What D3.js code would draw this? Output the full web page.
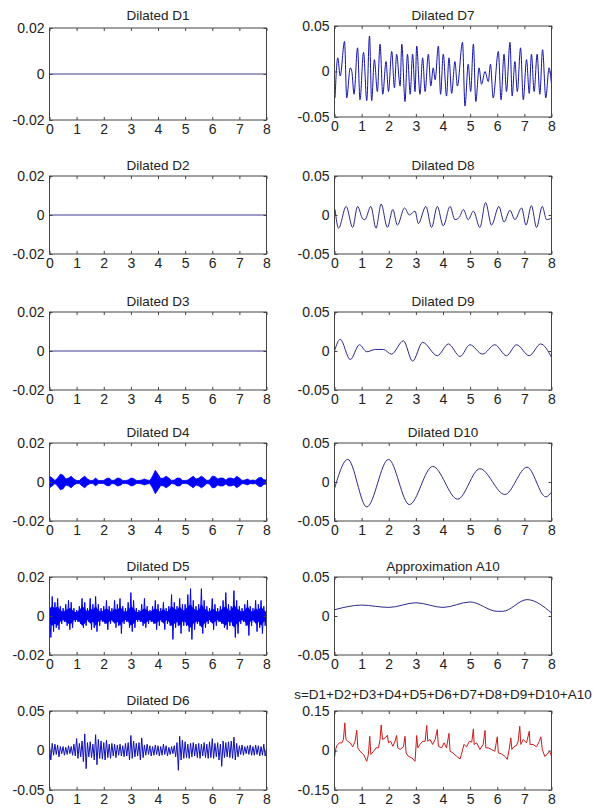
<!DOCTYPE html>
<html>
<head>
<meta charset="utf-8">
<script src="https://cdn.jsdelivr.net/npm/d3@7"></script>
<style>
body { margin: 0; background: #fff; }
svg text { font-family: "Liberation Sans", Arial, sans-serif; fill: #222; }
</style>
</head>
<body>
<svg id="chart" width="606" height="810"></svg>
<script>
// ---- data ----
const xTicks = [0, 1, 2, 3, 4, 5, 6, 7, 8]

const titles = ['Dilated D1', 'Dilated D2', 'Dilated D3', 'Dilated D4', 'Dilated D5', 'Dilated D6',
  'Dilated D7', 'Dilated D8', 'Dilated D9', 'Dilated D10', 'Approximation A10',
  's=D1+D2+D3+D4+D5+D6+D7+D8+D9+D10+A10']

const yLimits = [0.02, 0.02, 0.02, 0.02, 0.02, 0.05, 0.05, 0.05, 0.05, 0.05, 0.05, 0.15]
const yLabels = [
  ['-0.02', '0', '0.02'], ['-0.02', '0', '0.02'], ['-0.02', '0', '0.02'],
  ['-0.02', '0', '0.02'], ['-0.02', '0', '0.02'], ['-0.05', '0', '0.05'],
  ['-0.05', '0', '0.05'], ['-0.05', '0', '0.05'], ['-0.05', '0', '0.05'],
  ['-0.05', '0', '0.05'], ['-0.05', '0', '0.05'], ['-0.15', '0', '0.15']]

// D1..D3 are flat
const flatT = [0, 8]
const flatV = [0, 0]

// D4 burst amplitude, every 0.1
const d4Amp = [0.003, 0.002, 0.0008, 0.002, 0.004, 0.0035, 0.0015, 0.002, 0.003, 0.0015,
  0.0008, 0.0008, 0.002, 0.003, 0.0015, 0.0008, 0.0008, 0.002, 0.0008, 0.0008,
  0.0008, 0.0018, 0.002, 0.0008, 0.001, 0.002, 0.0018, 0.0008, 0.0008, 0.001,
  0.002, 0.0018, 0.0008, 0.0008, 0.001, 0.0015, 0.001, 0.0008, 0.003, 0.006,
  0.004, 0.0018, 0.002, 0.003, 0.002, 0.0008, 0.001, 0.002, 0.002, 0.0008,
  0.0008, 0.001, 0.002, 0.003, 0.0015, 0.002, 0.003, 0.002, 0.0008, 0.001,
  0.003, 0.0028, 0.0015, 0.002, 0.002, 0.001, 0.002, 0.002, 0.0015, 0.003,
  0.002, 0.0008, 0.001, 0.0015, 0.0008, 0.001, 0.0008, 0.002, 0.0025, 0.0012, 0.001]

// D5 upper / lower extremes and the solid core, every 0.1
const d5Up = [0.004, 0.010, 0.007, 0.009, 0.005, 0.004, 0.006, 0.008, 0.007, 0.004,
  0.003, 0.005, 0.009, 0.007, 0.004, 0.009, 0.006, 0.010, 0.006, 0.004,
  0.005, 0.008, 0.005, 0.004, 0.008, 0.006, 0.009, 0.005, 0.004, 0.007,
  0.012, 0.008, 0.004, 0.003, 0.006, 0.009, 0.005, 0.003, 0.005, 0.008,
  0.006, 0.004, 0.007, 0.004, 0.005, 0.011, 0.007, 0.005, 0.009, 0.006,
  0.006, 0.011, 0.014, 0.008, 0.005, 0.006, 0.014, 0.008, 0.005, 0.004,
  0.009, 0.006, 0.004, 0.005, 0.008, 0.012, 0.006, 0.005, 0.013, 0.008,
  0.005, 0.004, 0.006, 0.008, 0.005, 0.004, 0.008, 0.006, 0.008, 0.005, 0.003]
const d5Lo = [-0.011, -0.008, -0.006, -0.007, -0.004, -0.003, -0.005, -0.007, -0.006, -0.003,
  -0.003, -0.004, -0.006, -0.005, -0.003, -0.007, -0.006, -0.008, -0.005, -0.003,
  -0.004, -0.007, -0.004, -0.003, -0.006, -0.005, -0.009, -0.004, -0.003, -0.006,
  -0.008, -0.006, -0.003, -0.003, -0.005, -0.006, -0.004, -0.003, -0.004, -0.007,
  -0.005, -0.003, -0.007, -0.004, -0.005, -0.012, -0.006, -0.005, -0.009, -0.005,
  -0.005, -0.008, -0.012, -0.007, -0.004, -0.005, -0.009, -0.006, -0.004, -0.003,
  -0.007, -0.005, -0.003, -0.004, -0.006, -0.007, -0.005, -0.005, -0.011, -0.009,
  -0.004, -0.003, -0.005, -0.010, -0.005, -0.003, -0.008, -0.006, -0.009, -0.005, -0.003]
const d5Core = [0.004, 0.005, 0.004, 0.005, 0.003, 0.002, 0.003, 0.004, 0.004, 0.002,
  0.002, 0.003, 0.005, 0.004, 0.002, 0.004, 0.003, 0.005, 0.003, 0.002,
  0.003, 0.004, 0.003, 0.002, 0.004, 0.003, 0.005, 0.003, 0.002, 0.003,
  0.005, 0.004, 0.002, 0.002, 0.003, 0.004, 0.003, 0.002, 0.003, 0.004,
  0.003, 0.002, 0.004, 0.002, 0.003, 0.005, 0.004, 0.003, 0.005, 0.003,
  0.003, 0.005, 0.006, 0.004, 0.003, 0.003, 0.006, 0.004, 0.003, 0.002,
  0.004, 0.003, 0.002, 0.003, 0.004, 0.005, 0.003, 0.003, 0.006, 0.004,
  0.003, 0.002, 0.003, 0.005, 0.003, 0.002, 0.004, 0.003, 0.005, 0.003, 0.002]

// D6 peaks and troughs, every 0.05
const d6 = [0.006, -0.012, 0.009, -0.006, 0.008, -0.005, 0.007, -0.008, 0.005, -0.004,
  0.005, -0.006, 0.004, -0.005, 0.006, -0.004, 0.005, -0.006, 0.008, -0.007,
  0.015, -0.010, 0.009, -0.008, 0.012, -0.014, 0.021, -0.023, 0.010, -0.008,
  0.011, -0.009, 0.008, -0.012, 0.020, -0.018, 0.014, -0.010, 0.012, -0.011,
  0.010, -0.012, 0.013, -0.009, 0.008, -0.010, 0.009, -0.007, 0.008, -0.009,
  0.007, -0.006, 0.008, -0.007, 0.006, -0.008, 0.009, -0.007, 0.010, -0.012,
  0.019, -0.010, 0.012, -0.008, 0.009, -0.007, 0.010, -0.012, 0.016, -0.009,
  0.007, -0.006, 0.008, -0.005, 0.006, -0.007, 0.005, -0.006, 0.007, -0.005,
  0.006, -0.007, 0.005, -0.006, 0.008, -0.005, 0.006, -0.007, 0.004, -0.005,
  0.005, -0.004, 0.006, -0.008, 0.010, -0.025, 0.018, -0.012, 0.013, -0.010,
  0.011, -0.009, 0.008, -0.010, 0.009, -0.008, 0.010, -0.007, 0.008, -0.009,
  0.009, -0.010, 0.008, -0.007, 0.010, -0.009, 0.008, -0.010, 0.011, -0.009,
  0.015, -0.010, 0.009, -0.008, 0.010, -0.012, 0.008, -0.020, 0.012, -0.009,
  0.010, -0.008, 0.011, -0.009, 0.012, -0.010, 0.017, -0.012, 0.009, -0.008,
  0.006, -0.005, 0.007, -0.006, 0.005, -0.004, 0.006, -0.005, 0.007, -0.006,
  0.005, -0.006, 0.007, -0.005, 0.006, -0.007, 0.005, -0.006, 0.008, -0.007, 0.002]

const d7T = [0.02, 0.12, 0.21, 0.37, 0.45, 0.58, 0.64, 0.72, 0.85, 0.94, 1.07, 1.19, 1.29, 1.37, 1.47, 1.58,
  1.68, 1.78, 1.90, 1.99, 2.11, 2.21, 2.29, 2.42, 2.48, 2.60, 2.69, 2.79, 2.88, 2.97, 3.03, 3.15,
  3.25, 3.34, 3.46, 3.55, 3.64, 3.71, 3.83, 3.91, 4.01, 4.13, 4.22, 4.32, 4.44, 4.53, 4.72, 4.81,
  4.93, 5.02, 5.12, 5.21, 5.33, 5.42, 5.55, 5.67, 5.75, 5.85, 6.04, 6.14, 6.25, 6.34, 6.47, 6.55,
  6.65, 6.74, 6.86, 6.96, 7.08, 7.18, 7.26, 7.36, 7.47, 7.57, 7.67, 7.79, 7.91, 8.00]
const d7V = [-0.029, 0.015, -0.005, 0.033, -0.029, 0.004, 0.000, -0.025, 0.026, -0.031, 0.021, -0.032, 0.039, -0.032, 0.013, -0.022,
  0.030, -0.025, 0.011, -0.022, 0.022, -0.018, 0.019, -0.016, 0.030, -0.033, 0.019, -0.025, 0.019, -0.022, 0.028, -0.025,
  0.015, -0.022, 0.019, -0.016, 0.004, -0.009, 0.028, -0.025, 0.019, -0.027, 0.015, -0.024, 0.011, -0.016, 0.032, -0.038,
  0.008, -0.022, 0.030, -0.033, 0.004, -0.014, 0.000, -0.011, 0.008, -0.029, 0.022, -0.031, 0.019, -0.022, 0.032, -0.027,
  0.011, -0.022, 0.026, -0.031, 0.013, -0.024, 0.019, -0.022, 0.019, -0.025, 0.024, -0.029, 0.004, -0.014]

const d8T = [0.02, 0.15, 0.43, 0.67, 0.85, 1.04, 1.12, 1.34, 1.53, 1.72, 1.95, 2.15, 2.32, 2.58, 2.76, 2.97, 3.09,
  3.37, 3.58, 3.79, 4.01, 4.26, 4.44, 4.60, 4.75, 4.93, 5.12, 5.36, 5.57, 5.79, 6.06, 6.25, 6.47, 6.65,
  6.90, 7.06, 7.26, 7.45, 7.66, 7.82, 8.00]
const d8V = [0.007, -0.017, 0.011, -0.016, 0.011, -0.005, -0.006, 0.011, -0.017, 0.014, -0.016, 0.007, -0.013, 0.009, 0.000, 0.005, -0.011,
  0.011, -0.016, 0.011, -0.014, 0.011, -0.006, -0.003, 0.007, -0.006, 0.005, -0.016, 0.016, -0.013, 0.011, -0.009, 0.006, -0.006,
  0.009, -0.013, 0.012, -0.016, 0.011, -0.006, -0.004]

const d9T = [0, 0.21, 0.58, 0.92, 1.19, 1.50, 1.80, 2.10, 2.54, 2.88, 3.25, 3.79, 4.20, 4.63, 4.99, 5.46, 5.91, 6.34, 6.71, 7.18, 7.60, 8.00]
const d9V = [0, 0.015, -0.011, 0.008, -0.001, 0.002, 0.002, -0.004, 0.013, -0.013, 0.011, -0.006, 0.009, -0.007, 0.008, -0.004, 0.008, -0.006, 0.008, -0.006, 0.009, -0.008]

const d10T = [0, 0.49, 1.19, 1.99, 2.76, 3.62, 4.54, 5.36, 6.28, 7.10, 7.79, 8.00]
const d10V = [-0.0085, 0.029, -0.032, 0.029, -0.029, 0.020, -0.022, 0.017, -0.016, 0.019, -0.019, -0.013]

const a10T = [0, 1, 2, 3, 4, 5, 6, 6.2, 7.1, 8]
const a10V = [0.008, 0.014, 0.011, 0.017, 0.011, 0.018, 0.006, 0.006, 0.021, 0.004]

const sumT = [0.00, 0.04, 0.09, 0.18, 0.27, 0.33, 0.38, 0.42, 0.49, 0.58, 0.67, 0.76, 0.82, 0.86, 0.94, 1.07, 1.19, 1.25, 1.30, 1.34,
  1.44, 1.53, 1.62, 1.68, 1.72, 1.77, 1.87, 1.95, 1.99, 2.07, 2.15, 2.23, 2.29, 2.33, 2.42, 2.54, 2.60, 2.64, 2.72, 2.85,
  2.97, 3.03, 3.07, 3.15, 3.25, 3.34, 3.40, 3.44, 3.52, 3.62, 3.71, 3.79, 3.83, 3.95, 4.04, 4.13, 4.22, 4.26, 4.36, 4.50,
  4.63, 4.71, 4.77, 4.87, 4.97, 5.06, 5.12, 5.15, 5.24, 5.36, 5.48, 5.55, 5.58, 5.67, 5.79, 5.91, 6.00, 6.04, 6.16, 6.28,
  6.37, 6.44, 6.50, 6.54, 6.61, 6.71, 6.77, 6.83, 6.87, 6.96, 7.08, 7.18, 7.21, 7.32, 7.45, 7.55, 7.61, 7.66, 7.75, 7.84,
  7.91, 7.96, 8.00]
const sumV = [-0.028, 0.004, 0.019, 0.029, 0.029, 0.042, 0.105, 0.042, 0.035, 0.029, 0.014, 0.035, 0.077, 0.010, -0.003, -0.015, -0.041, -0.015, 0.054, -0.015,
  -0.003, 0.010, 0.010, 0.042, 0.097, 0.042, 0.048, 0.058, 0.029, 0.035, 0.016, 0.035, 0.057, 0.010, 0.004, 0.014, 0.054, -0.009, -0.022, -0.028,
  -0.041, 0.057, 0.010, 0.023, 0.035, 0.035, 0.095, 0.035, 0.042, 0.023, 0.042, 0.080, 0.016, 0.010, 0.029, 0.010, 0.065, -0.003, -0.009, -0.022,
  -0.032, -0.003, 0.023, 0.014, 0.035, 0.032, 0.082, 0.023, 0.029, 0.004, 0.023, 0.076, 0.010, 0.010, 0.004, -0.003, 0.052, -0.009, -0.013, -0.022,
  -0.034, 0.004, 0.048, 0.004, 0.014, 0.019, 0.035, 0.092, 0.023, 0.042, 0.029, 0.073, 0.023, 0.023, 0.014, 0.035, 0.052, 0.004, -0.022, -0.015,
  -0.003, -0.009, -0.022]

// ---- layout ----
const colX = [[49.5, 266.5], [334.5, 551.5]]
const rowY = [[28, 120], [176, 254], [312, 390], [443, 521], [577, 655], [711, 790]]
const rowYRight = [[26, 117], [176, 254], [312, 390], [443, 521], [577, 655], [711, 790]]
const titleGap = [8, 6, 6, 6, 6, 6, 6, 6, 6, 6, 6, 12]

const svg = d3.select('#chart')

const toPts = (ts, vs) => ts.map((t, i) => ({ t: t, v: vs[i] }))

const series = [
  { kind: 'line', pts: toPts(flatT, flatV), color: '#3a3a90', curve: d3.curveLinear },
  { kind: 'line', pts: toPts(flatT, flatV), color: '#3a3a90', curve: d3.curveLinear },
  { kind: 'line', pts: toPts(flatT, flatV), color: '#3a3a90', curve: d3.curveLinear },
  { kind: 'band', pts: d4Amp.map((a, i) => ({ t: i * 0.1, hi: a, lo: -a })), color: '#0000ff' },
  { kind: 'zig', up: d5Up, lo: d5Lo, core: d5Core, color: '#0000f0' },
  { kind: 'line', pts: d6.map((v, i) => ({ t: i * 0.05, v: v })), color: '#1010b8', curve: d3.curveLinear },
  { kind: 'line', pts: toPts(d7T, d7V), color: '#1414a8', curve: d3.curveMonotoneX },
  { kind: 'line', pts: toPts(d8T, d8V), color: '#2a2a88', curve: d3.curveMonotoneX },
  { kind: 'line', pts: toPts(d9T, d9V), color: '#2a2a88', curve: d3.curveMonotoneX },
  { kind: 'line', pts: toPts(d10T, d10V), color: '#2a2a88', curve: d3.curveMonotoneX },
  { kind: 'line', pts: toPts(a10T, a10V), color: '#2a2a88', curve: d3.curveMonotoneX },
  { kind: 'line', pts: toPts(sumT, sumV), color: '#cc1a1a', curve: d3.curveLinear }
]

series.forEach((s, i) => {
  const col = i < 6 ? 0 : 1
  const row = i % 6
  const [x0, x1] = colX[col]
  const [y0, y1] = col === 0 ? rowY[row] : rowYRight[row]
  const yMax = yLimits[i]

  const x = d3.scaleLinear().domain([0, 8]).range([x0, x1])
  const y = d3.scaleLinear().domain([-yMax, yMax]).range([y1, y0])

  const g = svg.append('g')

  g.append('clipPath').attr('id', 'clip' + i)
    .append('rect').attr('x', x0).attr('y', y0).attr('width', x1 - x0).attr('height', y1 - y0)

  const plot = g.append('g').attr('clip-path', 'url(#clip' + i + ')')

  if (s.kind === 'line') {
    const line = d3.line().curve(s.curve).x(d => x(d.t)).y(d => y(d.v))
    plot.append('path').datum(s.pts)
      .attr('fill', 'none').attr('stroke', s.color).attr('stroke-width', 1)
      .attr('d', line)
  } else if (s.kind === 'band') {
    const area = d3.area().x(d => x(d.t)).y0(d => y(d.lo)).y1(d => y(d.hi))
    plot.append('path').datum(s.pts)
      .attr('fill', s.color).attr('stroke', s.color).attr('stroke-width', 0.8)
      .attr('d', area)
  } else if (s.kind === 'zig') {
    // solid core of the burst signal
    const area = d3.area().x((d, k) => x(k * 0.1)).y0(d => y(-d)).y1(d => y(d))
    plot.append('path').datum(s.core)
      .attr('fill', s.color).attr('d', area)
    // spikes: alternate the upper and lower extremes
    const pts = []
    s.up.forEach((u, k) => {
      pts.push({ t: k * 0.1, v: u })
      pts.push({ t: k * 0.1 + 0.05, v: s.lo[k] })
    })
    const line = d3.line().x(d => x(d.t)).y(d => y(d.v))
    plot.append('path').datum(pts)
      .attr('fill', 'none').attr('stroke', s.color).attr('stroke-width', 1)
      .attr('d', line)
  }

  // axes with MATLAB-style inward ticks
  const yTickVals = [-yMax, 0, yMax]
  const bottom = g.append('g').attr('transform', `translate(0,${y1})`)
    .call(d3.axisBottom(x).tickValues(xTicks).tickSize(-3).tickPadding(4).tickFormat(d3.format('d')))
  const top = g.append('g').attr('transform', `translate(0,${y0})`)
    .call(d3.axisTop(x).tickValues(xTicks).tickSize(-3).tickFormat(''))
  const left = g.append('g').attr('transform', `translate(${x0},0)`)
    .call(d3.axisLeft(y).tickValues(yTickVals).tickSize(-3).tickPadding(5).tickFormat((d, k) => yLabels[i][k]))
  const right = g.append('g').attr('transform', `translate(${x1},0)`)
    .call(d3.axisRight(y).tickValues(yTickVals).tickSize(-3).tickFormat(''))

  ;[bottom, top, left, right].forEach(a => {
    a.select('.domain').remove()
    a.selectAll('line').attr('stroke', '#444')
    a.selectAll('text').attr('font-size', 14).attr('fill', '#222')
      .attr('font-family', '"Liberation Sans", Arial, sans-serif')
  })

  g.append('rect')
    .attr('x', x0).attr('y', y0).attr('width', x1 - x0).attr('height', y1 - y0)
    .attr('fill', 'none').attr('stroke', '#444').attr('stroke-width', 1)

  g.append('text')
    .attr('x', (x0 + x1) / 2).attr('y', row === 0 ? 20 : y0 - titleGap[i])
    .attr('text-anchor', 'middle').attr('font-size', 13.5)
    .text(titles[i])
})
</script>
</body>
</html>
